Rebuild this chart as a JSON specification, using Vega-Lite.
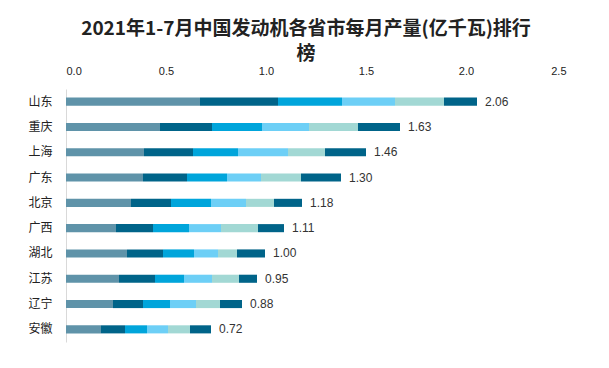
{
  "$schema": "https://vega.github.io/schema/vega-lite/v6.json",
  "autosize": "none",
  "width": 500,
  "height": 253,
  "padding": {"left": 66, "top": 89, "right": 43, "bottom": 26},
  "background": "white",
  "title": {
    "text": ["2021年1-7月中国发动机各省市每月产量(亿千瓦)排行", "榜"],
    "font": "Noto Sans CJK SC",
    "fontSize": 19,
    "fontWeight": "bold",
    "color": "#222222",
    "lineHeight": 25,
    "anchor": "middle",
    "dx": -10,
    "offset": 1
  },
  "datasets": {
    "seg": [
      {"province": "山东", "month": "1-2月", "k": 1, "value": 0.67},
      {"province": "山东", "month": "3月", "k": 2, "value": 0.39},
      {"province": "山东", "month": "4月", "k": 3, "value": 0.32},
      {"province": "山东", "month": "5月", "k": 4, "value": 0.265},
      {"province": "山东", "month": "6月", "k": 5, "value": 0.245},
      {"province": "山东", "month": "7月", "k": 6, "value": 0.165},
      {"province": "重庆", "month": "1-2月", "k": 1, "value": 0.47},
      {"province": "重庆", "month": "3月", "k": 2, "value": 0.26},
      {"province": "重庆", "month": "4月", "k": 3, "value": 0.25},
      {"province": "重庆", "month": "5月", "k": 4, "value": 0.235},
      {"province": "重庆", "month": "6月", "k": 5, "value": 0.245},
      {"province": "重庆", "month": "7月", "k": 6, "value": 0.21},
      {"province": "上海", "month": "1-2月", "k": 1, "value": 0.39},
      {"province": "上海", "month": "3月", "k": 2, "value": 0.245},
      {"province": "上海", "month": "4月", "k": 3, "value": 0.225},
      {"province": "上海", "month": "5月", "k": 4, "value": 0.25},
      {"province": "上海", "month": "6月", "k": 5, "value": 0.185},
      {"province": "上海", "month": "7月", "k": 6, "value": 0.205},
      {"province": "广东", "month": "1-2月", "k": 1, "value": 0.385},
      {"province": "广东", "month": "3月", "k": 2, "value": 0.22},
      {"province": "广东", "month": "4月", "k": 3, "value": 0.2},
      {"province": "广东", "month": "5月", "k": 4, "value": 0.17},
      {"province": "广东", "month": "6月", "k": 5, "value": 0.2},
      {"province": "广东", "month": "7月", "k": 6, "value": 0.2},
      {"province": "北京", "month": "1-2月", "k": 1, "value": 0.325},
      {"province": "北京", "month": "3月", "k": 2, "value": 0.2},
      {"province": "北京", "month": "4月", "k": 3, "value": 0.2},
      {"province": "北京", "month": "5月", "k": 4, "value": 0.175},
      {"province": "北京", "month": "6月", "k": 5, "value": 0.14},
      {"province": "北京", "month": "7月", "k": 6, "value": 0.14},
      {"province": "广西", "month": "1-2月", "k": 1, "value": 0.25},
      {"province": "广西", "month": "3月", "k": 2, "value": 0.185},
      {"province": "广西", "month": "4月", "k": 3, "value": 0.18},
      {"province": "广西", "month": "5月", "k": 4, "value": 0.16},
      {"province": "广西", "month": "6月", "k": 5, "value": 0.185},
      {"province": "广西", "month": "7月", "k": 6, "value": 0.13},
      {"province": "湖北", "month": "1-2月", "k": 1, "value": 0.305},
      {"province": "湖北", "month": "3月", "k": 2, "value": 0.18},
      {"province": "湖北", "month": "4月", "k": 3, "value": 0.155},
      {"province": "湖北", "month": "5月", "k": 4, "value": 0.12},
      {"province": "湖北", "month": "6月", "k": 5, "value": 0.095},
      {"province": "湖北", "month": "7月", "k": 6, "value": 0.14},
      {"province": "江苏", "month": "1-2月", "k": 1, "value": 0.265},
      {"province": "江苏", "month": "3月", "k": 2, "value": 0.18},
      {"province": "江苏", "month": "4月", "k": 3, "value": 0.145},
      {"province": "江苏", "month": "5月", "k": 4, "value": 0.14},
      {"province": "江苏", "month": "6月", "k": 5, "value": 0.135},
      {"province": "江苏", "month": "7月", "k": 6, "value": 0.09},
      {"province": "辽宁", "month": "1-2月", "k": 1, "value": 0.235},
      {"province": "辽宁", "month": "3月", "k": 2, "value": 0.15},
      {"province": "辽宁", "month": "4月", "k": 3, "value": 0.135},
      {"province": "辽宁", "month": "5月", "k": 4, "value": 0.13},
      {"province": "辽宁", "month": "6月", "k": 5, "value": 0.12},
      {"province": "辽宁", "month": "7月", "k": 6, "value": 0.11},
      {"province": "安徽", "month": "1-2月", "k": 1, "value": 0.175},
      {"province": "安徽", "month": "3月", "k": 2, "value": 0.12},
      {"province": "安徽", "month": "4月", "k": 3, "value": 0.11},
      {"province": "安徽", "month": "5月", "k": 4, "value": 0.105},
      {"province": "安徽", "month": "6月", "k": 5, "value": 0.11},
      {"province": "安徽", "month": "7月", "k": 6, "value": 0.105}
    ],
    "totals": [
      {"province": "山东", "label": "2.06"},
      {"province": "重庆", "label": "1.63"},
      {"province": "上海", "label": "1.46"},
      {"province": "广东", "label": "1.30"},
      {"province": "北京", "label": "1.18"},
      {"province": "广西", "label": "1.11"},
      {"province": "湖北", "label": "1.00"},
      {"province": "江苏", "label": "0.95"},
      {"province": "辽宁", "label": "0.88"},
      {"province": "安徽", "label": "0.72"}
    ]
  },
  "encoding": {
    "y": {
      "field": "province",
      "type": "nominal",
      "sort": ["山东", "重庆", "上海", "广东", "北京", "广西", "湖北", "江苏", "辽宁", "安徽"],
      "scale": {"paddingInner": 0.68, "paddingOuter": 0.34},
      "axis": {
        "title": null,
        "ticks": false,
        "domainColor": "#D9D9D9",
        "labelFont": "Noto Sans CJK SC",
        "labelFontSize": 12,
        "labelColor": "#222222",
        "labelPadding": 14
      }
    }
  },
  "layer": [
    {
      "data": {"name": "seg"},
      "mark": {"type": "bar"},
      "encoding": {
        "x": {
          "field": "value",
          "type": "quantitative",
          "stack": "zero",
          "scale": {"domain": [0, 2.5], "nice": false},
          "axis": {
            "orient": "top",
            "title": null,
            "values": [0, 0.5, 1, 1.5, 2, 2.5],
            "format": ".1f",
            "grid": false,
            "ticks": false,
            "domain": false,
            "labelFont": "Liberation Sans",
            "labelFontSize": 11,
            "labelColor": "#222222",
            "labelPadding": 13
          }
        },
        "color": {
          "field": "month",
          "type": "nominal",
          "scale": {
            "domain": ["1-2月", "3月", "4月", "5月", "6月", "7月"],
            "range": ["#5F93A9", "#006489", "#00A5DB", "#6DCFF6", "#A2D8D4", "#006489"]
          },
          "legend": null
        },
        "order": {"field": "k", "type": "quantitative"}
      }
    },
    {
      "data": {"name": "seg"},
      "transform": [
        {"aggregate": [{"op": "sum", "field": "value", "as": "end"}], "groupby": ["province"]},
        {"lookup": "province", "from": {"data": {"name": "totals"}, "key": "province", "fields": ["label"]}}
      ],
      "mark": {"type": "text", "align": "left", "dx": 8, "font": "Liberation Sans", "fontSize": 12, "color": "#333333"},
      "encoding": {
        "x": {"field": "end", "type": "quantitative"},
        "text": {"field": "label"}
      }
    }
  ],
  "config": {"view": {"stroke": null}}
}
